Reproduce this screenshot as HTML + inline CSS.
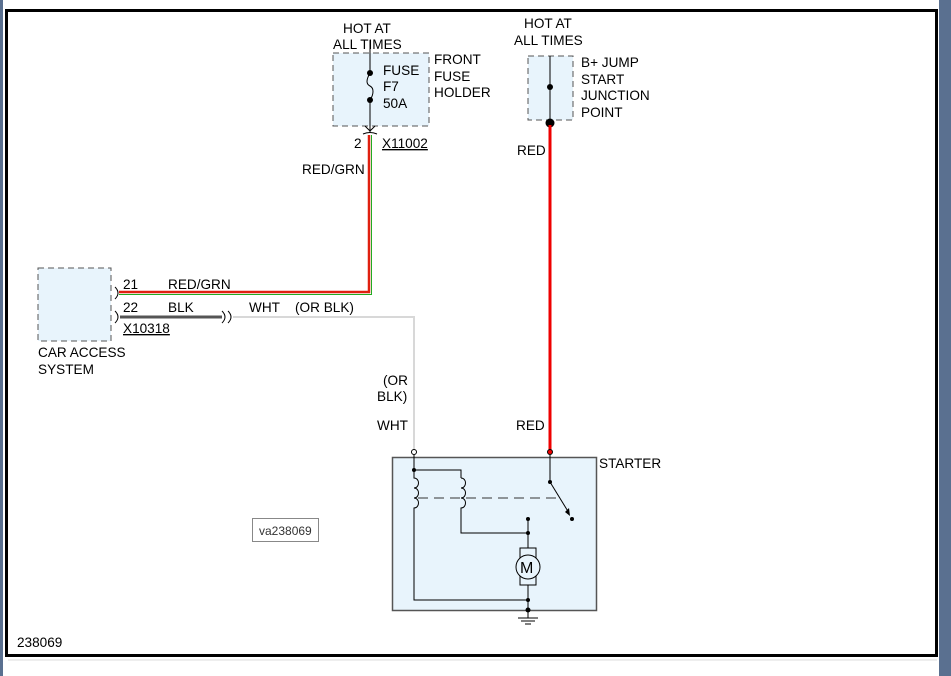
<!DOCTYPE html>
<html><head><meta charset="utf-8"><style>
body{margin:0;width:951px;height:676px;overflow:hidden;background:#fff;}
svg{display:block;font-family:"Liberation Sans",sans-serif;font-size:13.6px;}
</style></head><body>
<svg width="951" height="676" viewBox="0 0 951 676">
<rect x="0" y="0" width="3" height="676" fill="#5a7090"/>
<rect x="939" y="0" width="12" height="676" fill="#5a7090"/>
<rect x="6.5" y="10.5" width="930" height="645" fill="#fff" stroke="#000" stroke-width="3"/>
<line x1="937" y1="660" x2="8" y2="660" stroke="#ddd"/>

<!-- fuse box -->
<rect x="333" y="53" width="96" height="73" fill="#e8f4fc" stroke="#555" stroke-dasharray="6,4"/>
<line x1="370" y1="40" x2="370" y2="73" stroke="#000"/>
<line x1="370" y1="100" x2="370" y2="132" stroke="#000"/>
<path d="M370 73 C366 80,366 84,370 86 C374 88,374 94,370 100" fill="none" stroke="#000"/>
<circle cx="370" cy="73" r="3"/><circle cx="370" cy="100" r="3"/>
<path d="M365 126 L370 131 L375 126" fill="none" stroke="#000"/>
<path d="M363 134 Q370 131 377 134" fill="none" stroke="#000"/>
<text x="343" y="33">HOT AT</text><text x="333" y="49">ALL TIMES</text>
<text x="383" y="75">FUSE</text><text x="383" y="91">F7</text><text x="383" y="108">50A</text>
<text x="434" y="64">FRONT</text><text x="434" y="81">FUSE</text><text x="434" y="97">HOLDER</text>
<text x="354" y="148">2</text><text x="382" y="148" text-decoration="underline">X11002</text>
<text x="302" y="174">RED/GRN</text>

<!-- B+ -->
<rect x="528" y="56" width="45" height="64" fill="#e8f4fc" stroke="#555" stroke-dasharray="6,4"/>
<line x1="550" y1="56" x2="550" y2="123" stroke="#000"/>
<circle cx="550" cy="87" r="3"/><circle cx="550" cy="123" r="4.5"/>
<text x="524" y="28">HOT AT</text><text x="514" y="45">ALL TIMES</text>
<text x="581" y="67">B+ JUMP</text><text x="581" y="84">START</text><text x="581" y="100">JUNCTION</text><text x="581" y="117">POINT</text>
<line x1="550" y1="125" x2="550" y2="452" stroke="#e00" stroke-width="3"/>
<text x="517" y="155">RED</text><text x="516" y="430">RED</text>

<!-- RED/GRN wire -->
<path d="M119 292 L369 292 L369 135" fill="none" stroke="#e02010" stroke-width="2.5"/>
<path d="M119 294.5 L371.5 294.5 L371.5 135" fill="none" stroke="#2a2" stroke-width="1"/>

<!-- car access -->
<rect x="38" y="268" width="73" height="73" fill="#e8f4fc" stroke="#555" stroke-dasharray="6,4"/>
<path d="M115 287 Q121 293 115 299" fill="none" stroke="#000"/>
<path d="M115 311 Q121 317 115 323" fill="none" stroke="#000"/>
<line x1="120" y1="317" x2="222" y2="317" stroke="#555" stroke-width="3"/>
<path d="M222 311 Q228 317 222 323" fill="none" stroke="#000"/>
<path d="M228 311 Q234 317 228 323" fill="none" stroke="#000"/>
<path d="M233 317 L414 317 L414 452" fill="none" stroke="#d8d8d8" stroke-width="2"/>
<text x="123" y="289">21</text><text x="168" y="289">RED/GRN</text>
<text x="123" y="312">22</text><text x="168" y="312">BLK</text>
<text x="249" y="312">WHT</text><text x="295" y="312">(OR BLK)</text>
<text x="123" y="333" text-decoration="underline">X10318</text>
<text x="38" y="357">CAR ACCESS</text><text x="38" y="374">SYSTEM</text>
<text x="383" y="385">(OR</text><text x="377" y="401">BLK)</text><text x="377" y="430">WHT</text>

<!-- starter -->
<rect x="392.5" y="457.5" width="204" height="153" fill="#e8f4fc" stroke="#555" stroke-width="1.5"/>
<text x="599" y="468">STARTER</text>
<circle cx="414" cy="452" r="2.5" fill="#fff" stroke="#000"/>
<circle cx="550" cy="452" r="2.5" fill="#e00" stroke="#000"/>
<g fill="none" stroke="#000">
<line x1="414" y1="455" x2="414" y2="470"/>
<path d="M414 470 L461 470 L461 478"/>
<path d="M414 470 L414 478 C420 478,420 488,414 488 C420 488,420 498,414 498 C420 498,420 508,414 508 L414 518"/>
<path d="M461 478 C467 478,467 488,461 488 C467 488,467 498,461 498 C467 498,467 508,461 508 L461 533 L528 533"/>
<path d="M414 518 L414 600 L528 600"/>
<line x1="528" y1="519" x2="528" y2="548"/>
<line x1="528" y1="585" x2="528" y2="614"/>
<line x1="550" y1="455" x2="550" y2="482"/>
<line x1="550" y1="482" x2="569" y2="513"/>
<line x1="418" y1="498" x2="558" y2="498" stroke-dasharray="10,6" stroke="#333"/>
<rect x="520" y="548" width="16" height="37" fill="#e8f4fc"/>
<circle cx="528" cy="567" r="12" fill="#e8f4fc"/>
<line x1="518" y1="618" x2="538" y2="618"/><line x1="521" y1="621" x2="535" y2="621"/><line x1="525" y1="624" x2="531" y2="624"/>
<line x1="528" y1="614" x2="528" y2="618"/>
</g>
<text x="520" y="573" font-size="16">M</text>
<circle cx="414" cy="470" r="2"/><circle cx="528" cy="519" r="2"/><circle cx="528" cy="533" r="2"/>
<circle cx="528" cy="600" r="2"/><circle cx="528" cy="610" r="2.5"/><circle cx="550" cy="482" r="2"/><circle cx="572" cy="519" r="2"/>
<path d="M565 512 L570 516 L569 508 Z"/>

<rect x="252.5" y="518.5" width="66" height="23" fill="#fff" stroke="#888"/>
<text x="259" y="535" font-size="12" fill="#333">va238069</text>
<text x="17" y="647">238069</text>
</svg>
</body></html>
